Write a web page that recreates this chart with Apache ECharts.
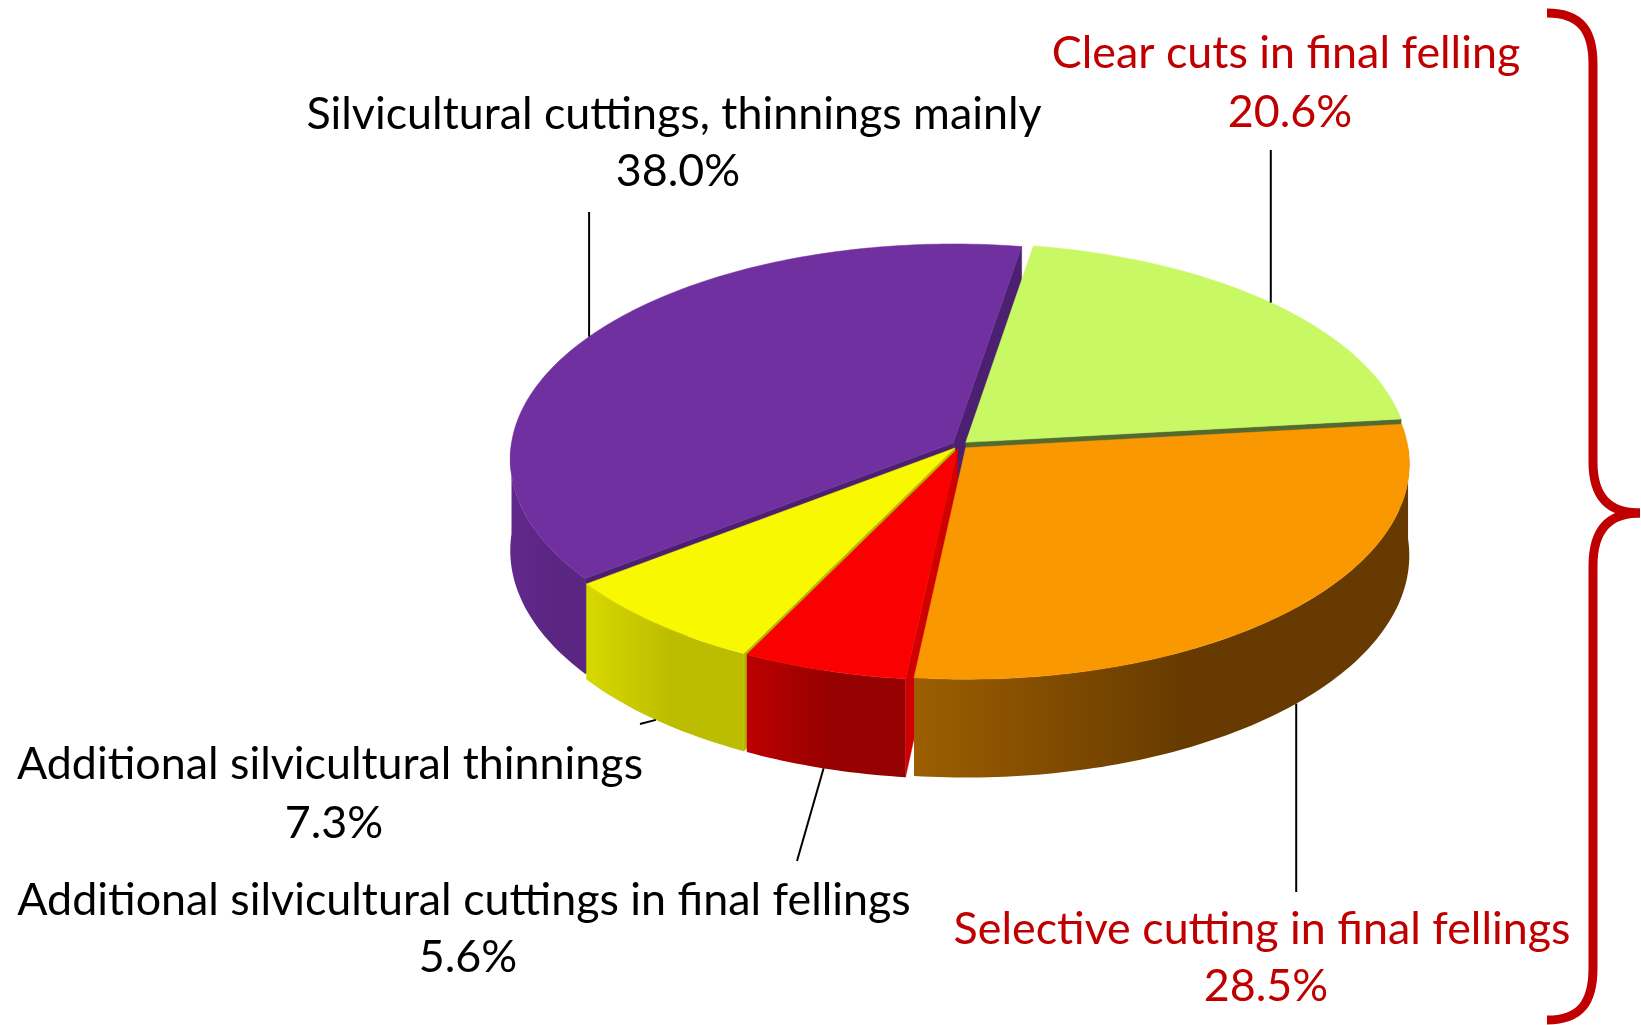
<!DOCTYPE html>
<html>
<head>
<meta charset="utf-8">
<title>Fellings by type</title>
<style>
  html, body { margin: 0; padding: 0; background: #fff; }
  #main { width: 1641px; height: 1025px; }
</style>
</head>
<body>
<div id="main"></div>
<script src="https://cdn.jsdelivr.net/npm/echarts@6/dist/echarts.min.js"></script>
<script>
// slices, clockwise from 12 o'clock
var categories = [
  'Clear cuts in final felling',
  'Selective cutting in final fellings',
  'Additional silvicultural cuttings in final fellings',
  'Additional silvicultural thinnings',
  'Silvicultural cuttings, thinnings mainly'
];
var shares = [20.6, 28.5, 5.6, 7.3, 38.0];
// the two final-felling groups are written in red
var highlighted = [true, true, false, false, false];

// colours: top, visible cut face, outer wall (left -> right)
var topColors = ['#c8f864', '#f99800', '#fa0000', '#f8f800', '#7030a0'];
var faceColors = ['#546a2e', '#8a5200', '#d00000', '#b6b600', '#4b2070'];
var sideColors = [
  ['#8aa844', '#6f8a36'],
  ['#9c5e00', '#663a00'],
  ['#bc0000', '#950000'],
  ['#d8d800', '#bcbc00'],
  ['#62298c', '#5a2682']
];

// pie geometry in px
var CX = 960, CY = 445, RX = 442, RY = 214, DEPTH = 91;
var PERSP = 0.0737, EXPLODE = 0.018, START = 9.5;

// label placement: centre of name line, centre of % line, end of leader
var labelLayout = [
  { name: [1286, 54], pct: [1290, 113], end: [null, 150] },
  { name: [1262, 930], pct: [1266, 987], end: [null, 892] },
  { name: [464, 901], pct: [468, 958], end: [797, 861] },
  { name: [330, 765], pct: [334, 824], end: [640, 724] },
  { name: [674, 115], pct: [678, 172], end: [null, 212] }
];

var FONT = 'Lato, "Open Sans", sans-serif';
// scale the font so the longest top label is as wide as in the original
var fontSize = (function () {
  var c = document.createElement('canvas').getContext('2d');
  c.font = '100px ' + FONT;
  var w = c.measureText('Silvicultural cuttings, thinnings mainly').width;
  return Math.round(100 * 735 / w * 10) / 10;
})();

var total = shares.reduce(function (s, v) { return s + v; }, 0);
function rad(d) { return d * Math.PI / 180; }

function renderItem(params, api) {
  var i = params.dataIndex;
  var before = 0;
  for (var j = 0; j < i; j++) before += shares[j];
  var a0 = START + before / total * 360;
  var a1 = START + (before + api.value(0)) / total * 360;
  var mid = (a0 + a1) / 2;
  var ox = EXPLODE * Math.sin(rad(mid));
  var oz = EXPLODE * Math.cos(rad(mid));

  // r: 0..1 of radius, deg clockwise from top, h: 0 top .. 1 bottom
  function p(r, deg, h) {
    var u = ox + r * Math.sin(rad(deg));
    var v = -(oz + r * Math.cos(rad(deg)));
    var k = 1 / (1 - PERSP * v);
    return [CX + RX * u * k, CY + RY * v * k + DEPTH * h * k];
  }
  function arc(from, to, h) {
    var pts = [], n = Math.max(2, Math.ceil(Math.abs(to - from)));
    for (var s = 0; s <= n; s++) pts.push(p(1, from + (to - from) * s / n, h));
    return pts;
  }

  var children = [];

  // cut faces that look towards the viewer; nearer faces painted later
  [[a0, Math.sin(rad(a0)) < 0], [a1, Math.sin(rad(a1)) > 0]].forEach(function (f) {
    if (!f[1]) return;
    var near = -Math.cos(rad(f[0])); // -1 back .. 1 front
    children.push({
      type: 'polygon', z2: 10 + Math.round((near + 1) * 10),
      shape: { points: [p(0, f[0], 0), p(1, f[0], 0), p(1, f[0], 1), p(0, f[0], 1)] },
      style: { fill: faceColors[i], stroke: faceColors[i], lineWidth: 0.5 }
    });
  });

  // outer wall, front half only
  var w0 = Math.max(a0, 90), w1 = Math.min(a1, 270);
  if (w1 > w0) {
    var wall = arc(w0, w1, 0).concat(arc(w1, w0, 1));
    children.push({
      type: 'polygon', z2: 40,
      shape: { points: wall },
      style: {
        fill: {
          type: 'linear', x: 0, y: 0, x2: 1, y2: 0,
          colorStops: [
            { offset: 0, color: sideColors[i][0] },
            { offset: 0.55, color: sideColors[i][1] },
            { offset: 1, color: sideColors[i][1] }
          ]
        }
      }
    });
  }

  // top
  children.push({
    type: 'polygon', z2: 50,
    shape: { points: [p(0, a0, 0)].concat(arc(a0, a1, 0)) },
    style: { fill: topColors[i], stroke: topColors[i], lineWidth: 0.5 }
  });

  // leader line from the rim at mid angle (bottom of the wall if in front)
  var front = Math.cos(rad(mid)) < 0;
  var anchor = p(1, mid, front ? 1 : 0);
  var lay = labelLayout[i];
  var end = [lay.end[0] == null ? anchor[0] : lay.end[0], lay.end[1]];
  children.push({
    type: 'line', z2: 60,
    shape: { x1: anchor[0], y1: anchor[1], x2: end[0], y2: end[1] },
    style: { stroke: '#000', lineWidth: 2 }
  });

  var color = highlighted[i] ? '#c00000' : '#000';
  children.push({
    type: 'text', z2: 70,
    style: {
      text: categories[i], x: lay.name[0], y: lay.name[1],
      fill: color, fontSize: fontSize, fontFamily: FONT,
      align: 'center', verticalAlign: 'middle'
    }
  });
  children.push({
    type: 'text', z2: 70,
    style: {
      text: api.value(0).toFixed(1) + '%', x: lay.pct[0], y: lay.pct[1],
      fill: color, fontSize: fontSize, fontFamily: FONT,
      align: 'center', verticalAlign: 'middle'
    }
  });

  return { type: 'group', children: children };
}

var myChart = echarts.init(document.getElementById('main'));

// curly brace grouping the final fellings
var braceStyle = { stroke: '#c00000', lineWidth: 9, fill: null };

option = {
  backgroundColor: '#fff',
  animation: false,
  series: [{
    type: 'custom',
    coordinateSystem: 'none',
    renderItem: renderItem,
    data: shares.map(function (v, i) { return { name: categories[i], value: [v] }; })
  }],
  graphic: [
    { type: 'bezierCurve', shape: { x1: 1547, y1: 13, cpx1: 1581, cpy1: 13, cpx2: 1593, cpy2: 31, x2: 1593, y2: 64 }, style: braceStyle },
    { type: 'line', shape: { x1: 1593, y1: 64, x2: 1593, y2: 462 }, style: braceStyle },
    { type: 'bezierCurve', shape: { x1: 1593, y1: 462, cpx1: 1593, cpy1: 496, cpx2: 1608, cpy2: 513, x2: 1640, y2: 513 }, style: braceStyle },
    { type: 'bezierCurve', shape: { x1: 1640, y1: 513, cpx1: 1608, cpy1: 513, cpx2: 1593, cpy2: 531, x2: 1593, y2: 566 }, style: braceStyle },
    { type: 'line', shape: { x1: 1593, y1: 566, x2: 1593, y2: 968 }, style: braceStyle },
    { type: 'bezierCurve', shape: { x1: 1593, y1: 968, cpx1: 1593, cpy1: 1002, cpx2: 1581, cpy2: 1020, x2: 1547, y2: 1020 }, style: braceStyle }
  ]
};

myChart.setOption(option);
</script>
</body>
</html>
